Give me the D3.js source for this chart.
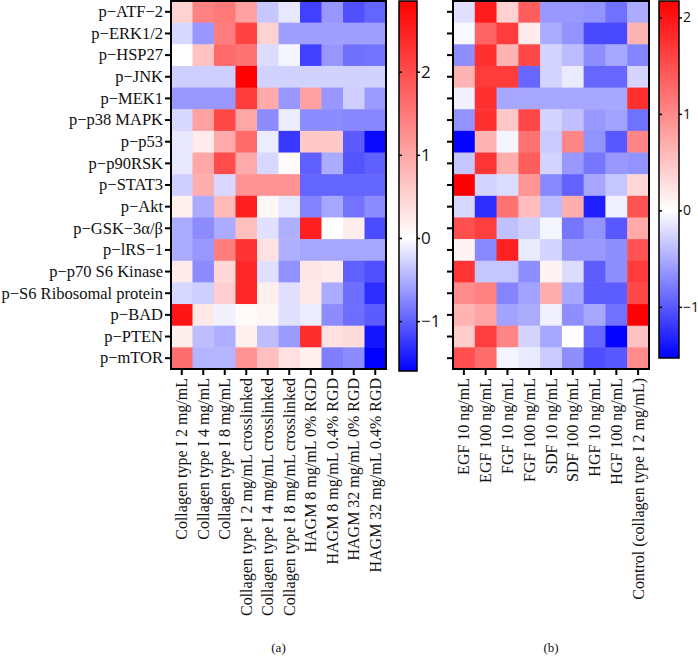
<!DOCTYPE html>
<html>
<head>
<meta charset="utf-8">
<script src="https://cdn.jsdelivr.net/npm/d3@7"></script>
<style>
  body { margin: 0; background: #fff; }
  svg { display: block; }
</style>
</head>
<body>
<div id="chart"></div>
<script>
var proteins = ['p\u2212ATF\u22122', 'p\u2212ERK1/2', 'p\u2212HSP27', 'p\u2212JNK', 'p\u2212MEK1', 'p\u2212p38 MAPK',
    'p\u2212p53', 'p\u2212p90RSK', 'p\u2212STAT3', 'p\u2212Akt', 'p\u2212GSK\u22123\u03b1/\u03b2', 'p\u2212lRS\u22121',
    'p\u2212p70 S6 Kinase', 'p\u2212S6 Ribosomal protein', 'p\u2212BAD', 'p\u2212PTEN', 'p\u2212mTOR'];

var matrixCols = ['Collagen type I 2 mg/mL', 'Collagen type I 4 mg/mL', 'Collagen type I 8 mg/mL',
    'Collagen type I 2 mg/mL crosslinked', 'Collagen type I 4 mg/mL crosslinked', 'Collagen type I 8 mg/mL crosslinked',
    'HAGM 8 mg/mL 0% RGD', 'HAGM 8 mg/mL 0.4% RGD', 'HAGM 32 mg/mL 0% RGD', 'HAGM 32 mg/mL 0.4% RGD'];

var factorCols = ['EGF 10 ng/mL', 'EGF 100 ng/mL', 'FGF 10 ng/mL', 'FGF 100 ng/mL', 'SDF 10 ng/mL',
    'SDF 100 ng/mL', 'HGF 10 ng/mL', 'HGF 100 ng/mL', 'Control (collagen type I 2 mg/mL)'];

// z-scores, one row per protein
var matrixValues = [
    [0.5, 1.4, 1.5, 1.05, -0.35, -0.15, -1.2, -0.65, -1.1, -0.97],
    [-0.25, -0.65, 1.45, 2.1, 0.5, -0.6, -0.6, -0.6, -0.6, -0.6],
    [0, 0.67, 1.67, 1.56, -0.22, -0.06, -1.2, -0.65, -0.9, -0.88],
    [-0.31, -0.31, -0.31, 2.84, -0.28, -0.28, -0.28, -0.28, -0.28, -0.28],
    [-0.65, -0.65, -0.65, 2.17, 0.95, -0.65, 1.05, -0.65, -0.31, -0.63],
    [-0.25, 1.05, 2.05, 1.0, -0.72, -0.12, -0.72, -0.72, -0.75, -0.75],
    [-0.15, 0.22, 0.95, 1.67, -0.12, -1.25, 0.6, 0.6, -1.03, -1.54],
    [-0.15, 1.0, 2.0, 0.95, -0.25, 0.05, -1.0, -0.53, -1.07, -1.0],
    [-0.31, 0.9, -0.25, 1.22, 1.22, 1.22, -0.97, -0.97, -0.97, -0.97],
    [0.17, -0.53, 0.78, 2.5, 0.1, -0.15, -0.78, -0.56, -0.88, -0.72],
    [-0.53, -0.72, -0.53, 0.72, -0.19, -0.5, 2.5, 0, 0.19, -1.13],
    [-0.53, -0.65, 1.45, 2.28, 0.33, -0.5, -0.56, -0.56, -0.56, -0.56],
    [0.22, -0.72, 0.45, 2.4, -0.19, -0.69, 0.28, 0.22, -1.0, -1.1],
    [-0.25, -0.31, 0.55, 2.4, 0.17, -0.19, 0.26, -0.53, -0.91, -1.32],
    [2.62, 0.26, -0.09, 0.05, 0.11, -0.19, -0.12, -0.72, -0.91, -1.03],
    [0.19, -0.41, -0.5, 0.17, -0.41, -0.63, 2.34, 0.33, 0.39, -1.47],
    [1.62, -0.47, -0.47, 1.22, 0.72, 0.33, 0.17, -0.81, -0.72, -1.6]
];

var factorValues = [
    [-0.18, 1.93, 0.39, 1.37, -0.62, -0.62, -0.65, -0.85, -0.5],
    [-0.04, 1.33, 1.67, 0.17, -0.5, -0.65, -1.09, -1.09, 0.64],
    [-0.68, 1.76, 0.64, 1.55, -0.26, -0.41, -0.68, -0.53, -0.74],
    [0.64, 1.67, 1.67, -0.91, -0.26, -0.12, -0.91, -0.91, -0.26],
    [-0.09, 1.76, -0.53, -0.53, -0.53, -0.53, -0.53, -0.53, 1.76],
    [-0.65, 1.76, 0.47, 1.55, -0.26, -0.38, -0.62, -0.56, -0.85],
    [-1.5, 0.64, -0.06, 1.2, -0.32, 1.03, -0.65, -1.0, 1.03],
    [-0.35, 1.72, 0.69, 1.37, -0.26, -0.62, -0.82, -0.62, -0.65],
    [2.19, -0.26, -0.21, 0.9, -0.71, -0.94, -0.53, -0.35, 0.34],
    [-0.24, -1.26, 1.2, 0.56, -0.41, 0.69, -1.35, -0.09, 1.46],
    [1.5, 1.63, -0.38, -0.29, -0.06, -0.82, -0.65, -1.0, 0.73],
    [0.09, -0.71, 1.89, -0.12, -0.26, -0.62, -0.62, -0.68, 1.46],
    [1.72, -0.35, -0.35, -0.68, 0.09, -0.21, -0.97, -0.68, 1.67],
    [0.99, 1.07, -0.74, -0.56, 0.69, -0.53, -0.97, -0.97, 1.55],
    [0.64, 0.77, -0.56, -0.5, -0.09, -0.68, -0.53, -0.85, 2.19],
    [0.43, 1.63, 1.03, -0.26, -0.53, 0, -0.91, -1.5, 0.52],
    [1.5, 1.25, -0.06, -0.12, -0.32, -0.68, -1.06, -1.0, 0.99]
];

var matrixRange = [-1.6, 2.85];
var factorRange = [-1.53, 2.17];
var cbTicks = [-1, 0, 1, 2];

var W = 698, H = 658;
var serif = '"Liberation Serif", "DejaVu Serif", serif';
var svg = d3.select('#chart').append('svg')
    .attr('width', W)
    .attr('height', H);

var defs = svg.append('defs');

function drawHeatmap(opts) {
    var g = svg.append('g');
    var color = d3.scaleLinear()
        .domain([opts.range[0], 0, opts.range[1]])
        .range(['#0000ff', '#ffffff', '#ff0000'])
        .clamp(true);

    var x = d3.scaleBand().domain(opts.cols).range([opts.x0, opts.x1]);
    var y = d3.scaleBand().domain(proteins).range([opts.y0, opts.y1]);

    var cells = [];
    opts.values.forEach(function(row, i) {
        row.forEach(function(v, j) {
            cells.push({row: proteins[i], col: opts.cols[j], v: v});
        });
    });

    g.selectAll('rect.cell')
        .data(cells)
        .join('rect')
        .attr('class', 'cell')
        .attr('x', function(d) { return x(d.col); })
        .attr('y', function(d) { return y(d.row); })
        .attr('width', x.bandwidth() + 0.5)
        .attr('height', y.bandwidth() + 0.5)
        .attr('fill', function(d) { return color(d.v); });

    g.append('rect')
        .attr('x', opts.x0)
        .attr('y', opts.y0)
        .attr('width', opts.x1 - opts.x0)
        .attr('height', opts.y1 - opts.y0)
        .attr('fill', 'none')
        .attr('stroke', '#000')
        .attr('stroke-width', 2);

    // left axis
    var yAxis = g.append('g')
        .attr('transform', 'translate(' + (opts.x0 - 1) + ',0)')
        .call(d3.axisLeft(y).tickSize(5).tickPadding(2).tickFormat(opts.rowLabels ? null : ''));
    yAxis.select('.domain').remove();
    yAxis.selectAll('.tick line').attr('stroke-width', 2);
    yAxis.selectAll('text')
        .attr('font-family', serif)
        .attr('font-size', '16.5px')
        .attr('fill', '#111');

    // bottom axis
    var xAxis = g.append('g')
        .attr('transform', 'translate(0,' + (opts.y1 + 1) + ')')
        .call(d3.axisBottom(x).tickSize(5).tickPadding(4));
    xAxis.select('.domain').remove();
    xAxis.selectAll('.tick line').attr('stroke-width', 2);
    xAxis.selectAll('text')
        .attr('font-family', serif)
        .attr('font-size', '16px')
        .attr('fill', '#111')
        .attr('text-anchor', 'end')
        .attr('transform', 'rotate(-90)')
        .attr('x', -8)
        .attr('y', 0)
        .attr('dy', '0.35em');

    // colour bar
    var cb = svg.append('g');
    var cy = d3.scaleLinear().domain(opts.range).range([opts.cbY1, opts.cbY0]);
    var gid = 'grad-' + opts.id;
    var grad = defs.append('linearGradient')
        .attr('id', gid)
        .attr('x1', 0).attr('y1', 1).attr('x2', 0).attr('y2', 0);
    var span = opts.range[1] - opts.range[0];
    [opts.range[0], 0, opts.range[1]].forEach(function(v) {
        grad.append('stop')
            .attr('offset', (v - opts.range[0]) / span)
            .attr('stop-color', color(v));
    });
    cb.append('rect')
        .attr('x', opts.cbX)
        .attr('y', opts.cbY0)
        .attr('width', opts.cbW)
        .attr('height', opts.cbY1 - opts.cbY0)
        .attr('fill', 'url(#' + gid + ')')
        .attr('stroke', '#000')
        .attr('stroke-width', 1.5);

    var cAxis = cb.append('g')
        .attr('transform', 'translate(' + (opts.cbX + opts.cbW) + ',0)')
        .call(d3.axisRight(cy).tickValues(cbTicks).tickSize(3).tickPadding(1)
            .tickFormat(function(d) { return d < 0 ? '\u2212' + Math.abs(d) : d; }));
    cAxis.select('.domain').remove();
    cAxis.selectAll('.tick line').attr('stroke-width', 1.5);
    cAxis.selectAll('.tick').append('line')
        .attr('x1', -opts.cbW).attr('x2', -opts.cbW + 3)
        .attr('stroke', '#000').attr('stroke-width', 1.5);
    cAxis.selectAll('text')
        .attr('font-family', '"Open Sans", "DejaVu Sans", sans-serif')
        .attr('font-size', opts.cbFont)
        .attr('fill', '#111');

    svg.append('text')
        .attr('x', (opts.x0 + opts.x1) / 2)
        .attr('y', 652)
        .attr('text-anchor', 'middle')
        .attr('font-family', serif)
        .attr('font-size', '13px')
        .attr('fill', '#111')
        .text(opts.caption);
}

drawHeatmap({
    id: 'a', cols: matrixCols, values: matrixValues, range: matrixRange,
    x0: 171, x1: 386, y0: 1, y1: 369, rowLabels: true,
    cbX: 399, cbW: 18, cbY0: 1, cbY1: 371, caption: '(a)', cbFont: '17px'
});

drawHeatmap({
    id: 'b', cols: factorCols, values: factorValues, range: factorRange,
    x0: 453, x1: 649, y0: 1, y1: 369, rowLabels: false,
    cbX: 659, cbW: 20, cbY0: 1, cbY1: 358, caption: '(b)', cbFont: '14px'
});
</script>
</body>
</html>
